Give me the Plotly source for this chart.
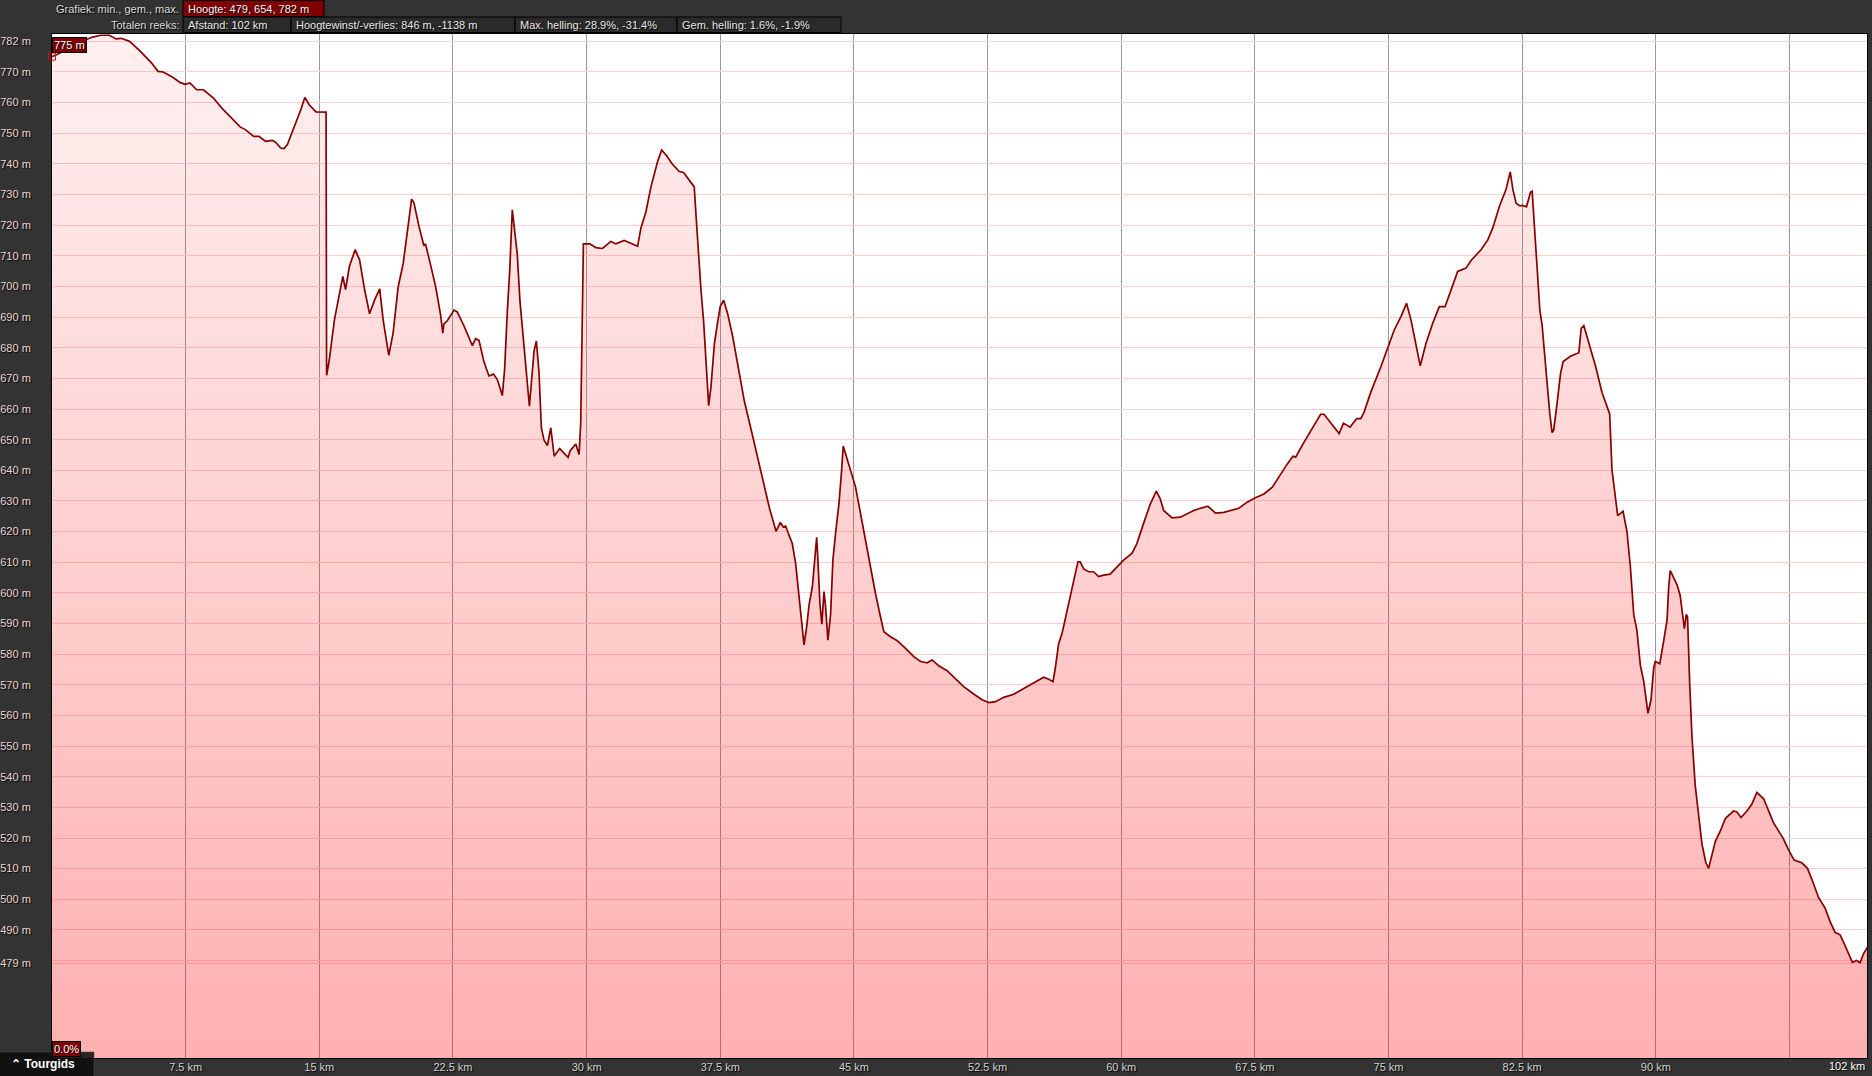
import plotly.graph_objects as go

# ---------------- data ----------------
distance_km = [
    0.0, 0.40, 1.20, 1.90, 2.28, 2.75, 3.22, 3.60, 3.88, 4.35, 4.92, 5.58, 5.95, 6.24, 6.80,
    7.18, 7.46, 7.74, 8.12, 8.50, 9.06, 9.53, 10.0, 10.57, 10.85, 11.32, 11.61, 11.98, 12.36,
    12.55, 12.83, 13.02, 13.21, 13.49, 13.77, 13.96, 14.19, 14.43, 14.81, 15.38, 15.41, 15.56,
    15.85, 16.13, 16.32, 16.47, 16.69, 17.01, 17.26, 17.54, 17.82, 18.11, 18.39, 18.58, 18.90,
    19.14, 19.43, 19.71, 19.99, 20.18, 20.31, 20.59, 20.87, 20.96, 21.25, 21.53, 21.81, 21.93,
    21.99, 22.18, 22.56, 22.74, 23.12, 23.59, 23.77, 23.96, 24.24, 24.52, 24.77, 24.99, 25.27,
    25.40, 25.55, 25.68, 25.83, 25.97, 26.11, 26.26, 26.49, 26.68, 26.79, 26.90, 27.05, 27.18,
    27.33, 27.46, 27.61, 27.80, 27.99, 28.18, 28.49, 28.96, 29.07, 29.39, 29.58, 29.67, 29.77,
    29.82, 30.18, 30.52, 30.89, 31.36, 31.64, 32.11, 32.48, 32.86, 33.05, 33.33, 33.61, 33.98,
    34.21, 34.45, 34.82, 35.20, 35.44, 35.76, 36.04, 36.14, 36.27, 36.42, 36.57, 36.70, 36.85,
    36.98, 37.17, 37.32, 37.50, 37.69, 37.91, 38.20, 38.48, 38.85, 39.23, 39.60, 39.88, 40.26,
    40.63, 40.87, 41.04, 41.17, 41.36, 41.54, 41.73, 41.92, 42.05, 42.20, 42.35, 42.48, 42.67,
    42.80, 42.91, 42.98, 43.09, 43.20, 43.32, 43.41, 43.54, 43.69, 43.82, 43.97, 44.16, 44.31,
    44.40, 44.53, 44.81, 45.09, 45.37, 45.65, 45.93, 46.21, 46.49, 46.68, 47.05, 47.43, 47.90,
    48.36, 48.74, 49.11, 49.39, 49.76, 50.23, 50.79, 51.16, 51.72, 52.19, 52.57, 52.94, 53.41,
    53.97, 54.43, 55.09, 55.65, 55.93, 56.17, 56.30, 56.49, 56.68, 56.96, 57.24, 57.42, 57.57,
    57.70, 57.89, 58.17, 58.45, 58.73, 59.01, 59.38, 59.76, 60.13, 60.60, 60.88, 61.25, 61.63,
    61.97, 62.19, 62.38, 62.85, 63.32, 64.07, 64.44, 64.86, 65.29, 65.76, 66.60, 67.07, 67.50,
    68.01, 68.48, 68.94, 69.32, 69.64, 69.79, 70.26, 70.82, 71.19, 71.38, 71.85, 72.23, 72.47,
    72.84, 73.22, 73.44, 73.63, 74.01, 74.57, 75.04, 75.32, 75.69, 76.01, 76.26, 76.54, 76.78,
    77.10, 77.48, 77.85, 78.17, 78.51, 78.88, 79.35, 79.63, 80.19, 80.57, 80.85, 81.22, 81.60,
    81.83, 81.98, 82.16, 82.35, 82.54, 82.74, 82.97, 83.06, 83.19, 83.34, 83.49, 83.62, 83.75,
    83.90, 84.05, 84.18, 84.27, 84.46, 84.65, 84.80, 85.21, 85.68, 85.81, 85.96, 86.24, 86.61,
    86.98, 87.26, 87.41, 87.54, 87.73, 87.86, 88.16, 88.38, 88.57, 88.76, 88.94, 89.13, 89.32,
    89.47, 89.56, 89.73, 89.88, 89.97, 90.22, 90.44, 90.63, 90.72, 90.81, 91.19, 91.37, 91.50,
    91.60, 91.71, 91.78, 91.90, 92.03, 92.21, 92.40, 92.59, 92.81, 92.96, 93.15, 93.34, 93.62,
    93.90, 94.36, 94.55, 94.78, 95.11, 95.39, 95.67, 96.05, 96.33, 96.60, 96.88, 97.16, 97.44,
    97.76, 98.19, 98.51, 98.75, 99.13, 99.50, 99.78, 100.06, 100.34, 100.62, 100.81, 101.03,
    101.27, 101.46, 101.65, 101.87,
]

elevation_m = [
    775, 776, 779, 780.5, 781.4, 782, 782, 780.8, 781, 780, 777, 773, 770.2, 770, 768.2,
    766.6, 766, 766.4, 764.2, 764.2, 761.5, 758.2, 755.3, 752, 751.2, 749, 749, 747.4, 747.7,
    747.1, 745.2, 745, 746.3, 750.6, 754.4, 757.7, 761.7, 759.3, 757, 756.9, 671, 676,
    689.2, 697.9, 703.3, 699, 706.6, 712, 708.7, 699, 691.1, 695.7, 699.2, 689.2, 677.5,
    684.8, 700, 707.6, 719.6, 728.5, 727.3, 719.7, 713.3, 713.9, 706.9, 699.9, 690.6, 684.8,
    687.7, 688.8, 692.3, 691.7, 687.1, 680.7, 683, 682.4, 675.4, 670.8, 671.4, 669.6, 664.4,
    673.1, 691.8, 704.6, 725, 718.5, 710.4, 695.2, 681.3, 669.6, 660.9, 668.5, 678.9, 682.2,
    671.9, 653.9, 649.8, 648.1, 653.9, 644.6, 647.1, 644.2, 646.3, 648.6, 645.2, 655.6, 696.4,
    713.9, 713.9, 712.7, 712.4, 714.7, 713.9, 715, 714.1, 713.1, 719.1, 724.4, 732.5, 740.7,
    744.5, 743, 739.9, 737.5, 737.2, 734.9, 732.5, 723.2, 711, 698.7, 688.3, 675.4, 661.1,
    667.3, 681.3, 687.1, 693.5, 695.5, 691.2, 683.6, 674.3, 662.6, 653.3, 644, 636.4, 627.7,
    620.1, 623, 621.5, 621.8, 618.8, 616.1, 609.6, 598.7, 590, 583, 589, 596, 602,
    609.6, 618.1, 610.7, 596.6, 589.8, 600.4, 595.5, 584.6, 592.8, 610.7, 619.4, 629.1, 640,
    647.9, 645.4, 640, 634.6, 625.9, 617.2, 607.4, 599.8, 592.2, 587.3, 585.7, 584.4, 581.9,
    579.2, 577.6, 577.2, 578.1, 576.2, 574.6, 571.6, 569.4, 567, 565.1, 564.2, 564.5, 565.9,
    566.9, 568.5, 570.7, 572.5, 571.8, 571, 575.4, 583.5, 586.8, 594.4, 600.9, 606.3, 610.1,
    610.1, 607.8, 606.9, 606.9, 605.3, 605.8, 606.1, 608.5, 610.7, 612.9, 616.1, 622.6, 629,
    633.2, 630.7, 626.9, 624.5, 624.7, 626.9, 627.6, 628.3, 626, 626.3, 627.6, 629.6, 631,
    632.3, 634.5, 638.9, 642.1, 644.6, 644.3, 649.2, 654.7, 658.3, 658.3, 654.7, 652, 655.4,
    654.1, 656.9, 656.9, 659, 665.6, 673.8, 681.4, 685.8, 690.1, 694.5, 689.1, 681.4, 674.1,
    681.4, 688, 693.4, 693.4, 698.9, 704.9, 706, 708.5, 712, 715.2, 719.1, 726.1, 731.8,
    737.4, 731.6, 727.2, 726.4, 726.4, 726, 730.8, 731.1, 720.3, 707.2, 692.4, 687.2, 678.4,
    666.2, 658.4, 652.3, 653.2, 661.9, 671.5, 675.5, 677.2, 678.4, 686.3, 687.2, 681.9, 674.1,
    665.4, 661, 658.4, 640.1, 630.5, 625.2, 626.6, 620, 608.7, 593, 587.7, 576.4, 571.2,
    565.1, 560.7, 565.1, 575.5, 577.6, 576.9, 584.3, 591.2, 601.7, 607.3, 602.6, 599.1, 593,
    588.3, 593, 592.1, 570.3, 552.9, 537.2, 528.5, 518, 511.9, 510.1, 514.5, 518.9, 522.3,
    526.4, 528.8, 528.5, 526.7, 528.8, 531.1, 534.9, 532.8, 528.5, 525, 522.4, 519.7, 516.2,
    512.8, 511.9, 510.1, 506.6, 500.6, 497.1, 492.7, 489.2, 488.4, 484.9, 482.2, 479.4,
    480, 479.3, 482.2, 484.3,
]

elev_stats = [479, 654, 782]          # min, gem., max
total_distance_km = 102
gain_loss_m = [846, -1138]
max_slope_pct = [28.9, -31.4]
avg_slope_pct = [1.6, -1.9]
start_slope_pct = 0.0

x_ticks = [7.5, 15, 22.5, 30, 37.5, 45, 52.5, 60, 67.5, 75, 82.5, 90, 97.5]
x_tick_labels = ["7.5 km", "15 km", "22.5 km", "30 km", "37.5 km", "45 km", "52.5 km",
                 "60 km", "67.5 km", "75 km", "82.5 km", "90 km", ""]
y_ticks = [479] + list(range(480, 781, 10))
y_tick_labels = ["479 m", ""] + [f"{v} m" for v in range(490, 771, 10)] + ["782 m"]

# ---------------- layout helpers ----------------
W, H = 1872, 1076
L, R, T, B = 52, 5, 34, 18
PW, PH = W - L - R, H - T - B


def px(X):
    return (X - L) / PW


def py(Y):
    return (H - B - Y) / PH


FONT = "Liberation Sans, Arial, sans-serif"
SHADOW = "1px 1px 1px #000"

fig = go.Figure()
fig.add_trace(go.Scatter(
    x=distance_km, y=elevation_m, mode="lines",
    line=dict(color="#870000", width=1.7),
    fill="tozeroy",
    fillgradient=dict(type="vertical", start=448.2, stop=782.4,
                      colorscale=[[0, "rgba(255,0,0,0.31)"], [1, "rgba(255,0,0,0.06)"]]),
    hoverinfo="skip", showlegend=False,
))
fig.add_trace(go.Scatter(
    x=distance_km[:1], y=elevation_m[:1], mode="markers",
    marker=dict(symbol="square-open", size=7, color="#ff0000", line=dict(width=1)),
    cliponaxis=False, hoverinfo="skip", showlegend=False,
))

shapes = []
annotations = []

# header row 1
shapes.append(dict(type="rect", xref="paper", yref="paper",
                   x0=px(183), x1=px(324), y0=py(16.5), y1=py(0.5),
                   fillcolor="#800000", line=dict(color="#000", width=1), layer="above"))
annotations.append(dict(xref="paper", yref="paper", x=px(181), y=py(9), xanchor="right",
                        yanchor="middle", showarrow=False, text="Grafiek: min., gem., max.",
                        font=dict(family=FONT, size=11, color="#dcdcdc", shadow=SHADOW)))
annotations.append(dict(xref="paper", yref="paper", x=px(186), y=py(9), xanchor="left",
                        yanchor="middle", showarrow=False,
                        text=f"Hoogte: {elev_stats[0]}, {elev_stats[1]}, {elev_stats[2]} m",
                        font=dict(family=FONT, size=11, color="#f4f4f4", shadow=SHADOW)))
# header row 2
annotations.append(dict(xref="paper", yref="paper", x=px(181), y=py(25), xanchor="right",
                        yanchor="middle", showarrow=False, text="Totalen reeks:",
                        font=dict(family=FONT, size=11, color="#dcdcdc", shadow=SHADOW)))
row2_edges = [183, 291, 515, 677, 841]
row2_texts = [
    f"Afstand: {total_distance_km} km",
    f"Hoogtewinst/-verlies: {gain_loss_m[0]} m, {gain_loss_m[1]} m",
    f"Max. helling: {max_slope_pct[0]}%, {max_slope_pct[1]}%",
    f"Gem. helling: {avg_slope_pct[0]}%, {avg_slope_pct[1]}%",
]
for i, t in enumerate(row2_texts):
    shapes.append(dict(type="rect", xref="paper", yref="paper",
                       x0=px(row2_edges[i]), x1=px(row2_edges[i + 1]), y0=py(32.5), y1=py(17),
                       fillcolor="#2a2a2a", line=dict(color="#000", width=1), layer="above"))
    annotations.append(dict(xref="paper", yref="paper", x=px(row2_edges[i] + 3), y=py(25),
                            xanchor="left", yanchor="middle", showarrow=False, text=t,
                            font=dict(family=FONT, size=11, color="#e8e8e8", shadow=SHADOW)))

# start value label
annotations.append(dict(xref="paper", yref="paper", x=px(52), y=py(45), xanchor="left",
                        yanchor="middle", showarrow=False, text=f"{elevation_m[0]:.0f} m",
                        bgcolor="#800000", bordercolor="#000", borderwidth=1, borderpad=1,
                        font=dict(family=FONT, size=11, color="#ffffff", shadow=SHADOW)))
# slope label
annotations.append(dict(xref="paper", yref="paper", x=px(52), y=py(1048.5), xanchor="left",
                        yanchor="middle", showarrow=False, text=f"{start_slope_pct:.1f}%",
                        bgcolor="#800000", bordercolor="#000", borderwidth=1, borderpad=1,
                        font=dict(family=FONT, size=11, color="#ffffff", shadow=SHADOW)))
# end distance label
annotations.append(dict(xref="paper", yref="paper", x=1, y=py(1066), xanchor="right",
                        yanchor="middle", showarrow=False, text=f"{total_distance_km} km",
                        font=dict(family=FONT, size=11, color="#ffffff", shadow=SHADOW)))
# Tourgids button
shapes.append(dict(type="rect", xref="paper", yref="paper",
                   x0=px(-2), x1=px(94), y0=py(1078), y1=py(1052),
                   fillcolor="rgba(12,12,12,0.88)", line=dict(color="rgba(70,70,70,0.6)", width=1),
                   layer="above"))
annotations.append(dict(xref="paper", yref="paper", x=px(9), y=py(1064), xanchor="left",
                        yanchor="middle", showarrow=False, text="<b>⌃ Tourgids</b>",
                        font=dict(family=FONT, size=12, color="#ffffff")))

fig.update_layout(
    width=W, height=H, margin=dict(l=L, r=R, t=T, b=B, pad=0, autoexpand=False),
    paper_bgcolor="#333333", plot_bgcolor="#ffffff",
    shapes=shapes, annotations=annotations, hovermode=False,
    xaxis=dict(range=[0, 101.85], tickvals=x_ticks, ticktext=x_tick_labels,
               automargin=False,
               showgrid=True, gridcolor="#999999", gridwidth=1, zeroline=False,
               showline=True, linecolor="#000", linewidth=1, mirror=True,
               ticks="", ticklabelstandoff=-1,
               tickfont=dict(family=FONT, size=11, color="#d2d2d2", shadow=SHADOW)),
    yaxis=dict(range=[448.2, 782.4], tickvals=y_ticks, ticktext=y_tick_labels,
               automargin=False,
               showgrid=True, gridcolor="#ffcfcf", gridwidth=1, zeroline=False,
               showline=True, linecolor="#000", linewidth=1, mirror=True,
               ticks="", ticklabelstandoff=18,
               tickfont=dict(family=FONT, size=11, color="#efd6d6", shadow=SHADOW)),
)

fig.write_html("out.html", config={"displayModeBar": False},
               post_script="document.body.style.margin='0';document.body.style.overflow='hidden';")
